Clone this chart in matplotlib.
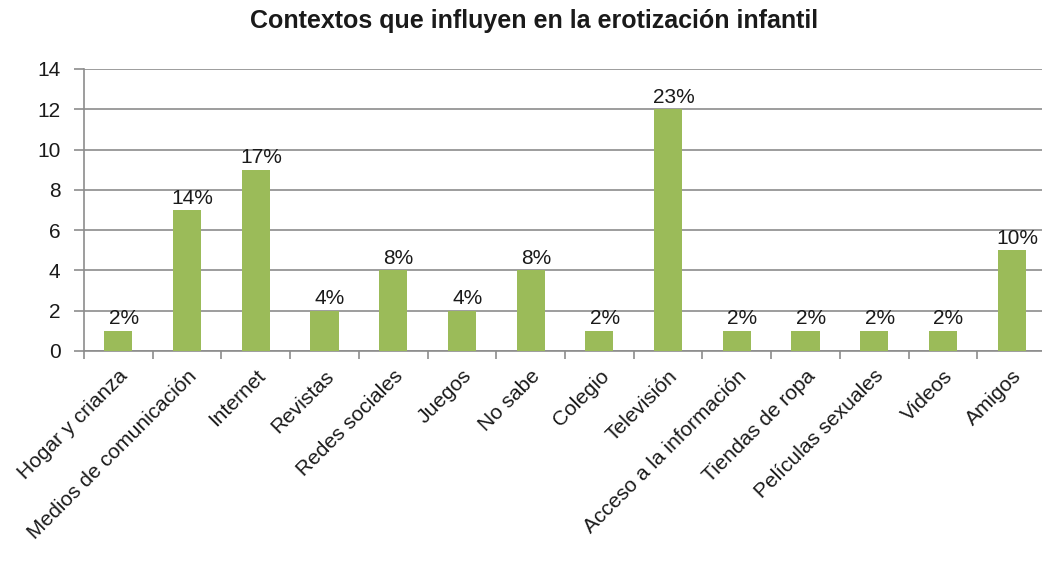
import numpy as np
import matplotlib
matplotlib.use("Agg")
import matplotlib.pyplot as plt

categorias = ["Hogar y crianza", "Medios de comunicación", "Internet", "Revistas",
              "Redes sociales", "Juegos", "No sabe", "Colegio", "Televisión",
              "Acceso a la información", "Tiendas de ropa", "Películas sexuales",
              "Videos", "Amigos"]
valores = [1, 7, 9, 2, 4, 2, 4, 1, 12, 1, 1, 1, 1, 5]
porcentajes = ["2%", "14%", "17%", "4%", "8%", "4%", "8%", "2%", "23%",
               "2%", "2%", "2%", "2%", "10%"]

plt.rcParams['font.family'] = ['Liberation Sans', 'DejaVu Sans']

fig = plt.figure(figsize=(10.42, 5.63), dpi=100)
# axes right edge runs slightly past the image, as in the original
ax = fig.add_axes([84 / 1042, 1 - 351 / 563, 962 / 1042, 282 / 563])

x = np.arange(len(categorias))
ax.bar(x, valores, width=0.41, color='#9BBB59', zorder=3)

for xi, v, p in zip(x, valores, porcentajes):
    ax.text(xi + 0.08, v + 0.12, p, ha='center', va='bottom', fontsize=15, color='#1a1a1a', zorder=4)

ax.set_xlim(-0.5, len(categorias) - 0.5)
ax.set_ylim(0, 14)
ax.set_yticks(np.arange(0, 15, 2))
ax.yaxis.grid(True, color='#8c8c8c', linewidth=1.2, zorder=0)

ax.set_xticks(x)
ax.set_xticklabels(categorias, rotation=45, ha='right', va='top', rotation_mode='anchor', fontsize=15, color='#1a1a1a')
ax.tick_params(axis='x', length=0, pad=11)
ax.set_xticks(np.arange(-0.5, len(categorias), 1), minor=True)
ax.tick_params(axis='x', which='minor', length=6, color='#8c8c8c', direction='out', width=1.2)
ax.tick_params(axis='y', length=7, color='#8c8c8c', width=1.2, labelsize=15, pad=10, labelcolor='#1a1a1a')

for s in ['top', 'right']:
    ax.spines[s].set_visible(False)
for s in ['left', 'bottom']:
    ax.spines[s].set_color('#8c8c8c')
    ax.spines[s].set_linewidth(1.2)

fig.text(534 / 1042, 1 - 21 / 563, "Contextos que influyen en la erotización infantil",
         ha='center', va='center', fontsize=18, fontweight='bold', color='#1a1a1a')

fig.savefig("out.png", dpi=100)
